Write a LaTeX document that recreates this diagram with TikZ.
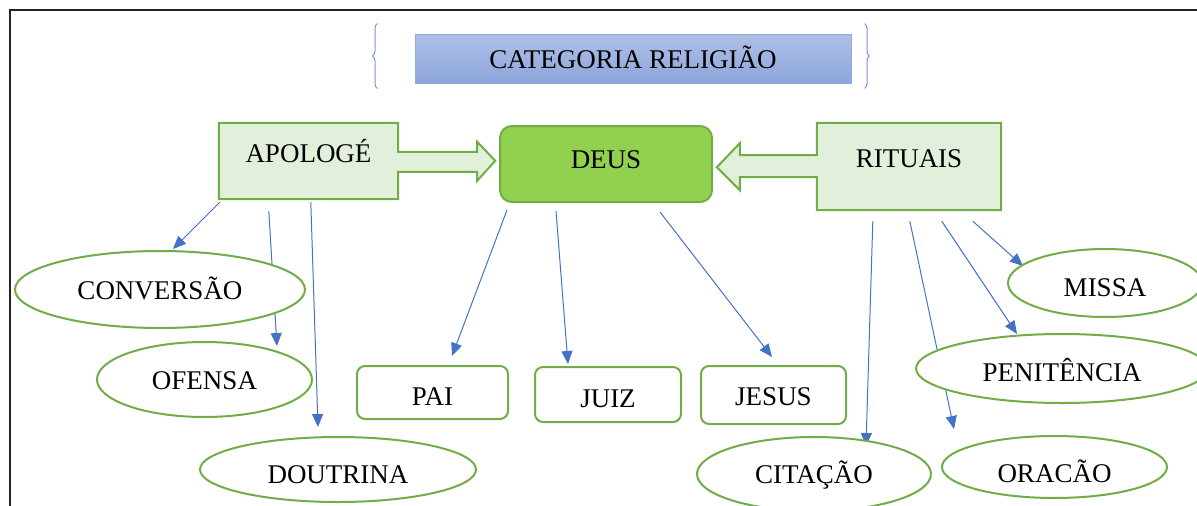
\documentclass[tikz,border=0pt]{standalone}
\usepackage{fontspec}
\setmainfont{Liberation Serif}
\usetikzlibrary{arrows.meta,calc,backgrounds,decorations.pathreplacing,shapes.geometric}
\definecolor{gborder}{HTML}{70AD47}
\definecolor{gfill}{HTML}{E2EFDA}
\definecolor{gdeus}{HTML}{92D050}
\definecolor{barrow}{HTML}{4472C4}
\definecolor{ttop}{HTML}{B0C1E8}
\definecolor{tbot}{HTML}{8CA4DB}
\definecolor{tline}{HTML}{8FAADC}
\definecolor{bracecol}{HTML}{7A96D4}
\definecolor{framecol}{HTML}{222222}
\pgfdeclarelayer{connlayer}
\pgfsetlayers{background,connlayer,main}
\begin{document}
\begin{tikzpicture}[x=1pt,y=-1pt,
  every node/.style={font=\fontsize{27pt}{30pt}\selectfont, inner sep=0pt, text=black},
  tb/.style={text height=#1, text depth=0pt},
  oval/.style={ellipse, draw=gborder, line width=2pt, fill=white},
  rbox/.style={rectangle, rounded corners=8pt, draw=gborder, line width=2pt, fill=white},
  gbox/.style={rectangle},
  gshape/.style={draw=gborder, fill=gfill, line width=2pt, line join=miter},
  deusbox/.style={rectangle, rounded corners=12pt, draw=gborder, fill=gdeus, line width=2pt},
  titlebox/.style={rectangle, top color=ttop, bottom color=tbot, draw=tline, line width=1pt},
  bracestyle/.style={draw=bracecol, line width=1pt, decorate, decoration={brace, amplitude=5pt}},
  link/.style={draw=barrow, line width=1pt, -{Triangle[length=13pt,width=11pt]}},
  framestyle/.style={draw=framecol, line width=2.5pt}
]
\useasboundingbox (0,0) rectangle (1197,506);

% frame
\draw[framestyle] (10,506) -- (10,10) -- (1197,10);

% title
\node[titlebox, minimum width=436pt, minimum height=49pt, tb=19pt] (title) at (633,58.5) {CATEGORIA RELIGIÃO};
\draw[bracestyle] ($(title.south west)+(-37,5)$) -- ($(title.north west)+(-37,-10)$);
\draw[bracestyle] ($(title.north east)+(13,-10)$) -- ($(title.south east)+(13,5)$);

% main boxes
\node[gbox, minimum width=179pt, minimum height=76pt, tb=2pt] (apo) at (308.5,161) {APOLOGÉ};
\node[deusbox, minimum width=212pt, minimum height=76pt, tb=8pt] (deus) at (606,164) {DEUS};
\node[gbox, minimum width=184pt, minimum height=87pt, tb=2pt] (rit) at (909,166.5) {RITUAIS};

\begin{scope}[on background layer]
\draw[gshape] (apo.north west) -- (apo.north east) -- ++(0,29) -- ++(79,0) -- ++(0,-10)
  -- ++(18,19) -- ++(-18,20) -- ++(0,-9) -- ++(-79,0) -- (apo.south east) -- (apo.south west) -- cycle;
\draw[gshape] (rit.north east) -- (rit.south east) -- (rit.south west) -- ++(0,-33) -- ++(-77,0)
  -- ++(0,13) -- ++(-23,-23) -- ++(23,-24) -- ++(0,12) -- ++(77,0) -- (rit.north west) -- cycle;
\end{scope}

% leaves
\node[oval, minimum width=290pt, minimum height=77pt, tb=19pt] (conv) at (160,289.5) {CONVERSÃO};
\node[oval, minimum width=215pt, minimum height=75pt, tb=19pt] (ofen) at (204.5,379.5) {OFENSA};
\node[oval, minimum width=276pt, minimum height=65pt, tb=27pt] (dout) at (338,469.5) {DOUTRINA};
\node[rbox, minimum width=151pt, minimum height=53pt, tb=25pt] (pai) at (432.5,392.5) {PAI};
\node[rbox, minimum width=146pt, minimum height=55pt, tb=25pt] (juiz) at (608,394.5) {JUIZ};
\node[rbox, minimum width=145pt, minimum height=58pt, tb=20pt] (jesus) at (773.5,395) {JESUS};
\node[oval, minimum width=194pt, minimum height=68pt, tb=26pt] (missa) at (1105,283) {MISSA};
\node[oval, minimum width=292pt, minimum height=69pt, tb=25pt] (pen) at (1062,368.5) {PENITÊNCIA};
\node[oval, minimum width=234pt, minimum height=74pt, tb=18pt] (cit) at (814,474) {CITAÇÃO};
\node[oval, minimum width=225pt, minimum height=62pt, tb=30pt] (orac) at (1054.5,467) {ORACÃO};

% connectors
\begin{pgfonlayer}{connlayer}
\draw[link] ($(apo.south west)+(1,3)$) -- ($(conv.north)+(13,-1)$);
\draw[link] ($(apo.south west)+(50,12)$) -- ($(ofen.north)+(72.5,5)$);
\draw[link] ($(apo.south west)+(92,3)$) -- ($(dout.north)+(-20,-9)$);
\draw[link] ($(deus.south west)+(8,7)$) -- ($(pai.north)+(19.5,-9)$);
\draw[link] ($(deus.south west)+(57,8)$) -- ($(juiz.north)+(-40,-2)$);
\draw[link] ($(deus.south west)+(161,9)$) -- ($(jesus.north)+(-1.5,-8)$);
\draw[link] ($(rit.south west)+(56,11)$) -- ($(cit.north)+(52,10)$);
\draw[link] ($(rit.south west)+(93,11)$) -- ($(orac.north)+(-100.5,-6)$);
\draw[link] ($(rit.south west)+(125,11)$) -- ($(pen.north)+(-45,1)$);
\draw[link] ($(rit.south west)+(156,11)$) -- ($(missa.north)+(-82,18)$);
\end{pgfonlayer}
\end{tikzpicture}
\end{document}
